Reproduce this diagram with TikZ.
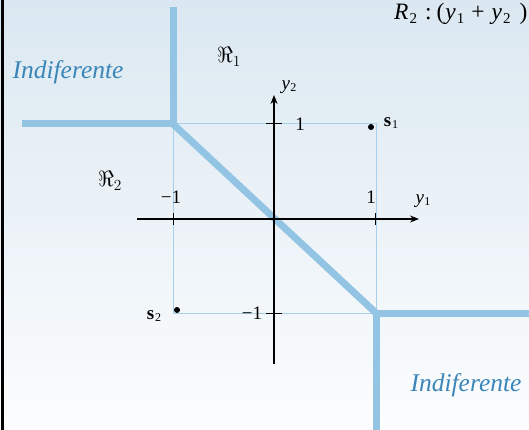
\RequirePackage{fix-cm}
\documentclass[tikz,border=0pt]{standalone}
\usepackage{fontspec}
\setmainfont{Liberation Serif}
\usetikzlibrary{arrows.meta}
\definecolor{bgtop}{HTML}{DBE8F1}
\definecolor{bgbot}{HTML}{FCFDFE}
\definecolor{thickblue}{HTML}{93C4E3}
\definecolor{thinblue}{HTML}{A9D0EA}
\definecolor{txtblue}{HTML}{3A86B8}
\newcommand{\vy}[1]{\textit{y}\kern0.5pt\raisebox{-0.3ex}{\fontsize{12}{12}\selectfont #1}}
\newcommand{\vs}[1]{\textbf{s}\kern1pt\raisebox{-0.3ex}{\fontsize{12}{12}\selectfont #1}}
\newcommand{\bigsub}[1]{\raisebox{-0.35ex}{\fontsize{15}{15}\selectfont #1}}
\tikzset{
  boundary/.style={line width=7pt, thickblue},
  guide/.style={line width=1pt, thinblue},
  axis/.style={line width=1.3pt, -{Stealth[length=9pt,width=7pt]}},
  tick/.style={line width=1pt},
  lbl/.style={font=\fontsize{19}{21}\selectfont, inner sep=0pt},
  relbl/.style={font=\fontsize{22}{24}\selectfont, inner sep=0pt},
  indif/.style={font=\fontsize{25.5}{28}\selectfont\itshape, text=txtblue, inner sep=0pt},
  dot/.style={circle, fill=black, inner sep=0pt, minimum size=6pt}
}
\begin{document}
\begin{tikzpicture}[x=1pt,y=-1pt]
\shade[top color=bgtop, bottom color=bgbot] (0,0) rectangle (529,430);
\useasboundingbox (0,0) rectangle (529,430);
\draw[line width=3pt] (2,0) -- (2,430);
% key points
\coordinate (O) at (274,219);
\coordinate (A) at (173,124);
\coordinate (B) at (376,313);
\coordinate (C) at (376,124);
\coordinate (D) at (173,313);
\coordinate (Atop) at (173,7);
\coordinate (Aleft) at (22,124);
\coordinate (Bright) at (529,313);
\coordinate (Bbot) at (376,430);
% guide rectangle
\draw[guide] (A) -- (C) -- (B) -- (D) -- cycle;
% decision boundary
\draw[boundary] (Atop) -- (A);
\draw[boundary] (Aleft) -- (A);
\draw[boundary, line cap=round] (A) -- (B);
\draw[boundary] (B) -- (Bright);
\draw[boundary] (B) -- (Bbot);
% axes
\coordinate (xs) at (137,219);
\coordinate (xe) at (419,219);
\coordinate (ys) at (274,364);
\coordinate (ye) at (274,95);
\draw[axis] (xs) -- (xe);
\draw[axis] (ys) -- (ye);
% ticks
\coordinate (t1a) at (173,213); \coordinate (t1b) at (173,225);
\coordinate (t2a) at (375,213); \coordinate (t2b) at (375,225);
\coordinate (t3a) at (266,124); \coordinate (t3b) at (282,124);
\coordinate (t4a) at (266,313); \coordinate (t4b) at (282,313);
\draw[tick] (t1a) -- (t1b);
\draw[tick] (t2a) -- (t2b);
\draw[tick] (t3a) -- (t3b);
\draw[tick] (t4a) -- (t4b);
% labels
\node[lbl] (ly1) at (300,124) {1};
\node[lbl] (lxm1) at (171,197) {−1};
\node[lbl] (lx1) at (371,197) {1};
\node[lbl] (ly1ax) at (423,201) {\vy{1}};
\node[lbl] (ly2ax) at (289,87) {\vy{2}};
\node[lbl] (lym1) at (252,313) {−1};
\node[dot] (s1) at (371,127) {};
\node[lbl] (ls1) at (391,123) {\vs{1}};
\node[dot] (s2) at (177,310) {};
\node[lbl] (ls2) at (154,316) {\vs{2}};
\node[relbl] (r1) at (229,57) {$\Re_1$};
\node[relbl] (r2) at (110,181) {$\Re_2$};
\node[indif] (ind1) at (68,72) {Indiferente};
\node[indif] (ind2) at (466,385) {Indiferente};
\node[font=\fontsize{23.5}{25}\selectfont, inner sep=0pt, anchor=base west] (rule) at (394,20)
  {\textit{R}\kern1pt\bigsub{2}\kern8pt:\kern5pt(\kern1pt\textit{y}\kern1pt\bigsub{1}\kern7pt+\kern7pt\textit{y}\kern1pt\bigsub{2}\kern9pt)};
\end{tikzpicture}
\end{document}
